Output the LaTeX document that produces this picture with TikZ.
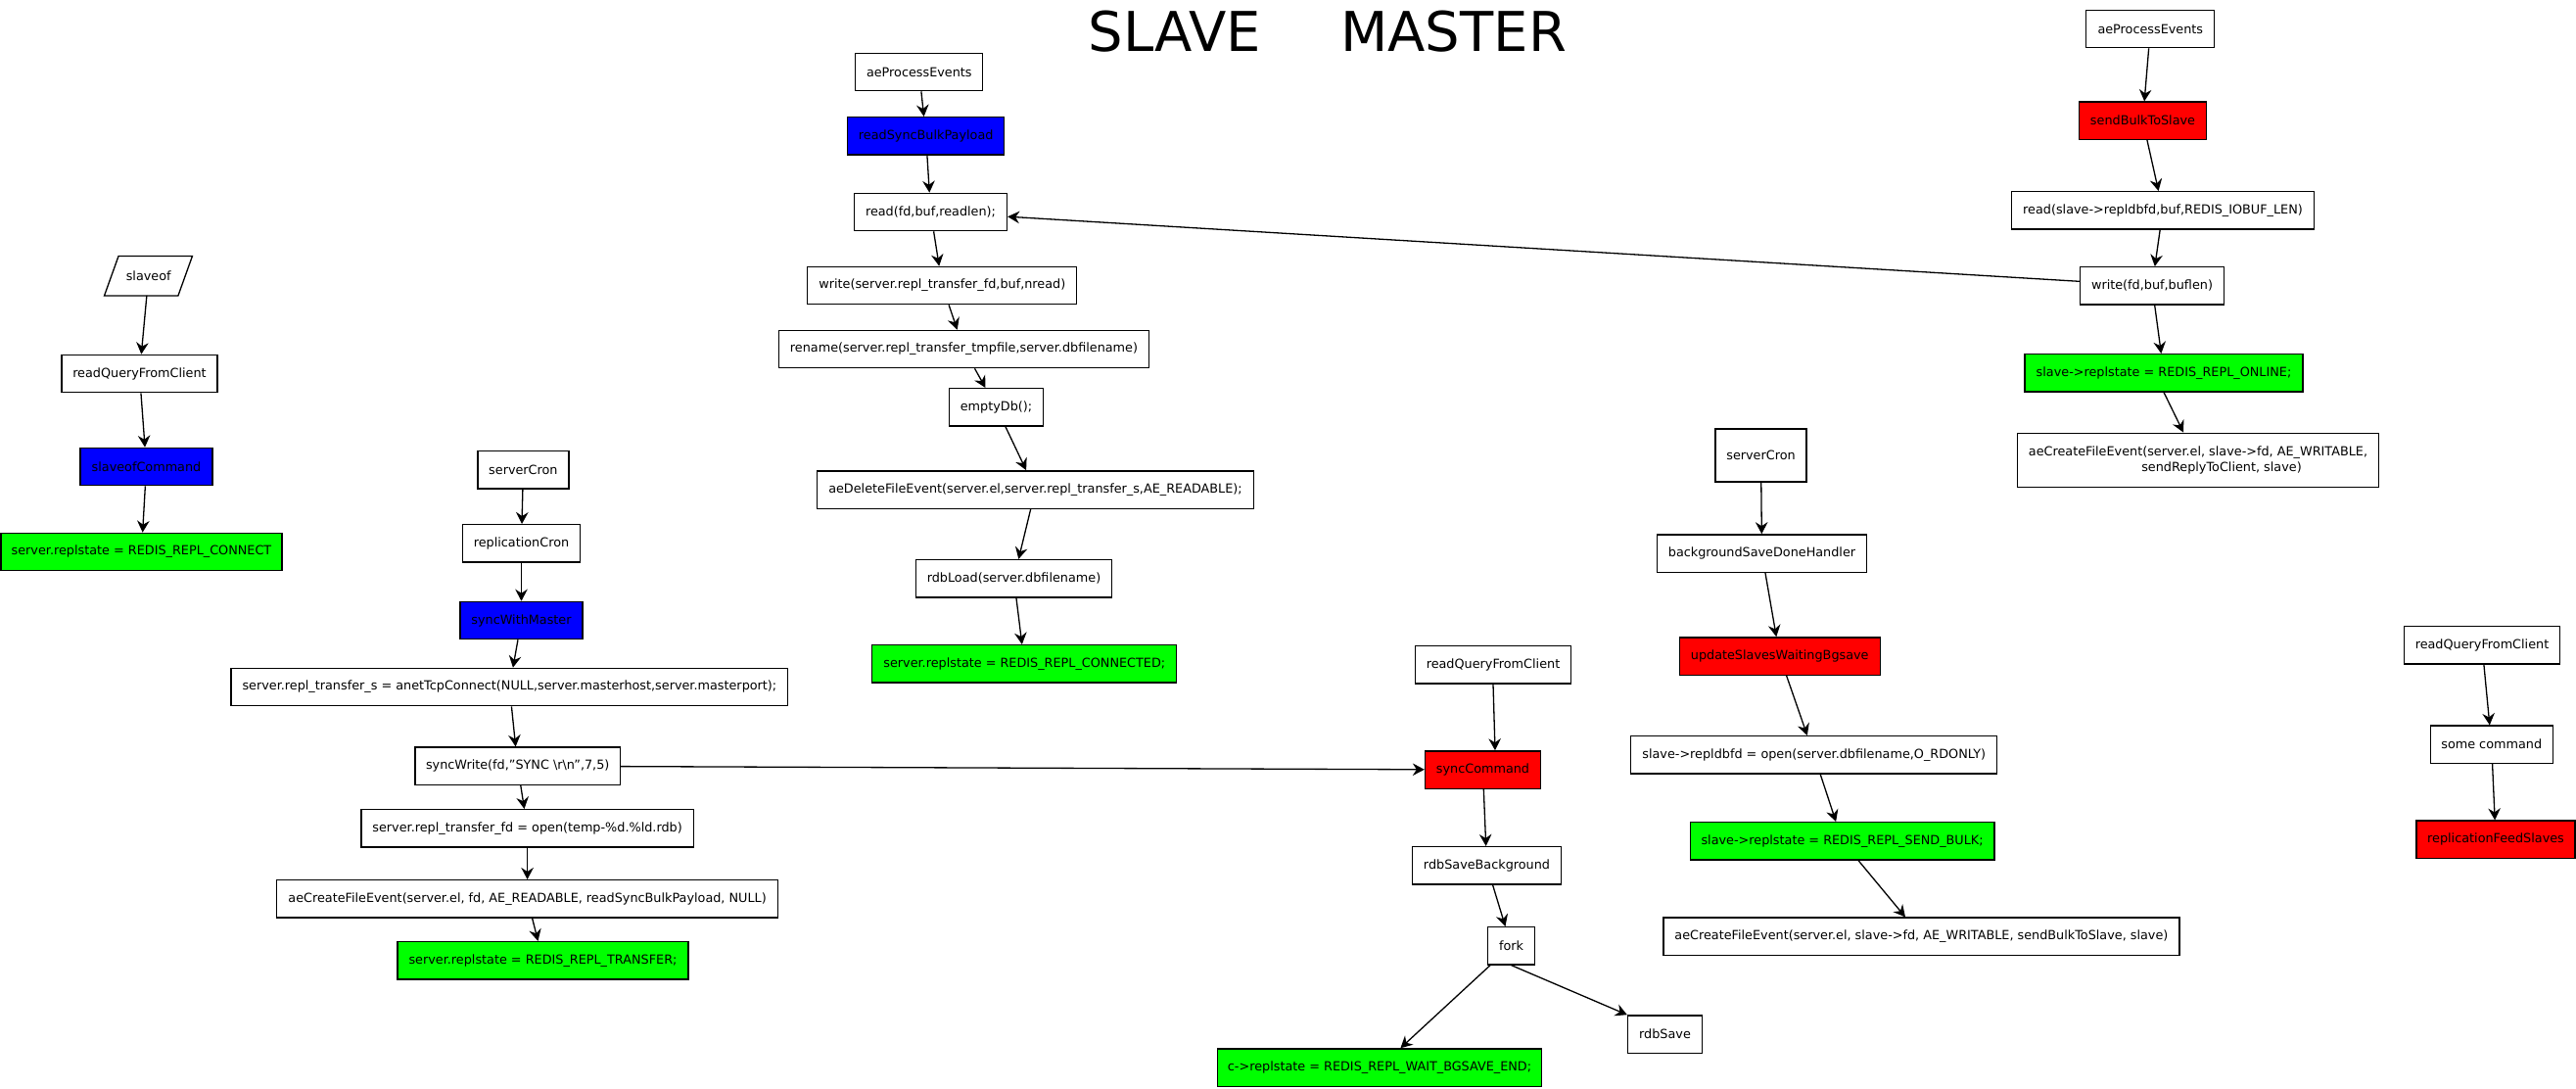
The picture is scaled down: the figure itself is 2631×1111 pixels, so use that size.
\documentclass[tikz,border=0pt]{standalone}
\usepackage{fontspec}
\setmainfont{DejaVu Sans}
\usetikzlibrary{arrows.meta}
\begin{document}
\begin{tikzpicture}[x=1pt,y=-1pt,
  box/.style={draw, line width=1.3pt, fill=white, minimum height=38.3pt, inner xsep=3pt, inner ysep=2pt,
    font=\fontsize{12.8}{16}\selectfont},
  bluebox/.style={box, fill={rgb,255:red,0;green,0;blue,255}},
  greenbox/.style={box, fill={rgb,255:red,0;green,255;blue,0}},
  redbox/.style={box, fill={rgb,255:red,255;green,0;blue,0}},
  arr/.style={line width=1.3pt, -{Stealth[length=12pt,width=12.5pt,inset=4pt]}},
  ttl/.style={font=\fontsize{56}{60}\selectfont, anchor=base, inner sep=0pt}]
\useasboundingbox[fill=white] (0,0) rectangle (2631,1111);

% title
\node[ttl] (tslave) at (1200,52.7) {SLAVE};
\node[ttl] (tmaster) at (1484.6,52.7) {MASTER};

% ---------- SLAVE: slaveof ----------
\node[minimum width=75pt, minimum height=40pt, inner sep=0pt, font=\fontsize{12.8}{16}\selectfont] (slaveof) at (151.75,281.7) {slaveof};
\draw[line width=1.3pt] ([xshift=-7.5pt]slaveof.south west) -- ([xshift=-7.5pt]slaveof.south east)
  -- ([xshift=7pt]slaveof.north east) -- ([xshift=7pt]slaveof.north west) -- cycle;
\node[box, minimum width=159pt] (rqc1) at (142.5,381.5) {readQueryFromClient};
\node[bluebox, minimum width=135pt] (slcmd) at (149.5,476.5) {slaveofCommand};
\node[greenbox, minimum width=287pt] (connect) at (144.5,563.5) {server.replstate = REDIS\_REPL\_CONNECT};

% ---------- SLAVE: serverCron ----------
\node[box, minimum width=93pt] (scron1) at (534.4,479.8) {serverCron};
\node[box, minimum width=119.7pt] (rcron) at (532.5,554.8) {replicationCron};
\node[bluebox, minimum width=125pt] (swm) at (532.5,633.5) {syncWithMaster};
\node[box, minimum width=568.6pt] (anet) at (520.4,701.5) {server.repl\_transfer\_s = anetTcpConnect(NULL,server.masterhost,server.masterport);};
\node[box, minimum width=209.3pt] (swrite) at (528.7,782.2) {syncWrite(fd,"SYNC \textbackslash r\textbackslash n",7,5)};
\node[box, minimum width=339.4pt] (replfd) at (538.6,845.8) {server.repl\_transfer\_fd = open(temp-\%d.\%ld.rdb)};
\node[box, minimum width=511.6pt] (aec1) at (538.6,917.8) {aeCreateFileEvent(server.el, fd, AE\_READABLE, readSyncBulkPayload, NULL)};
\node[greenbox, minimum width=297pt] (transfer) at (554.5,980.7) {server.replstate = REDIS\_REPL\_TRANSFER;};

% ---------- SLAVE: aeProcessEvents ----------
\node[box, minimum width=130pt] (aepe1) at (938.8,73.5) {aeProcessEvents};
\node[bluebox, minimum width=160pt] (rsbp) at (945.7,138.8) {readSyncBulkPayload};
\node[box, minimum width=156pt] (readfd) at (950.5,216.5) {read(fd,buf,readlen);};
\node[box, minimum width=275pt] (writefd) at (962.3,291.5) {write(server.repl\_transfer\_fd,buf,nread)};
\node[box, minimum width=378pt] (rename) at (984.5,356.5) {rename(server.repl\_transfer\_tmpfile,server.dbfilename)};
\node[box, minimum width=96pt] (emptydb) at (1017.5,415.8) {emptyDb();};
\node[box, minimum width=445.5pt] (aedel) at (1057.5,500) {aeDeleteFileEvent(server.el,server.repl\_transfer\_s,AE\_READABLE);};
\node[box, minimum width=200pt] (rdbload) at (1035.5,590.7) {rdbLoad(server.dbfilename)};
\node[greenbox, minimum width=311pt] (connected) at (1046.3,677.8) {server.replstate = REDIS\_REPL\_CONNECTED;};

% ---------- MASTER: readQueryFromClient / sync ----------
\node[box, minimum width=159pt] (rqc2) at (1525,678.8) {readQueryFromClient};
\node[redbox, minimum width=118pt] (synccmd) at (1514.5,786) {syncCommand};
\node[box, minimum width=152pt] (rdbsbg) at (1518.5,883.7) {rdbSaveBackground};
\node[box, minimum width=48pt] (fork) at (1543.5,965.8) {fork};
\node[box, minimum width=76pt] (rdbsave) at (1700.5,1056) {rdbSave};
\node[greenbox, minimum width=331pt] (waitbg) at (1409,1090) {c->replstate = REDIS\_REPL\_WAIT\_BGSAVE\_END;};

% ---------- MASTER: serverCron ----------
\node[box, minimum width=93pt, minimum height=54pt] (scron2) at (1798.5,465) {serverCron};
\node[box, minimum width=214pt] (bgsdh) at (1799.5,565) {backgroundSaveDoneHandler};
\node[redbox, minimum width=205pt] (upd) at (1817.7,670) {updateSlavesWaitingBgsave};
\node[box, minimum width=374pt] (repldbfd) at (1852.7,770.8) {slave->repldbfd = open(server.dbfilename,O\_RDONLY)};
\node[greenbox, minimum width=310.7pt] (sendbulk) at (1881.6,858.8) {slave->replstate = REDIS\_REPL\_SEND\_BULK;};
\node[box, minimum width=527pt] (aec2) at (1962.4,956.2) {aeCreateFileEvent(server.el, slave->fd, AE\_WRITABLE, sendBulkToSlave, slave)};

% ---------- MASTER: aeProcessEvents ----------
\node[box, minimum width=131pt] (aepe2) at (2196.3,29.5) {aeProcessEvents};
\node[redbox, minimum width=130pt] (sbts) at (2188.5,123.2) {sendBulkToSlave};
\node[box, minimum width=309pt] (readsl) at (2209,214.8) {read(slave->repldbfd,buf,REDIS\_IOBUF\_LEN)};
\node[box, minimum width=147pt] (writebuf) at (2198,291.8) {write(fd,buf,buflen)};
\node[greenbox, minimum width=284pt] (online) at (2210,380.8) {slave->replstate = REDIS\_REPL\_ONLINE;};
\node[box, minimum width=369pt, minimum height=55pt, align=center] (aec3) at (2245,469.7)
  {aeCreateFileEvent(server.el, slave->fd, AE\_WRITABLE,\\\hspace*{48pt}sendReplyToClient, slave)};

% ---------- MASTER: feed ----------
\node[box, minimum width=159pt] (rqc3) at (2535,658.8) {readQueryFromClient};
\node[box, minimum width=125pt] (somecmd) at (2544.7,760.2) {some command};
\node[redbox, minimum width=162pt] (feed) at (2549,857.2) {replicationFeedSlaves};

% ---------- connectors ----------
\draw[arr] (slaveof) -- (rqc1);
\draw[arr] (rqc1) -- (slcmd);
\draw[arr] (slcmd) -- (connect);

\draw[arr] (scron1) -- (rcron);
\draw[arr] (rcron) -- (swm);
\draw[arr] (swm) -- (anet);
\draw[arr] (anet) -- (swrite);
\draw[arr] (swrite) -- (replfd);
\draw[arr] (replfd) -- (aec1);
\draw[arr] (aec1) -- (transfer);
\draw[arr] (swrite) -- (synccmd);

\draw[arr] (aepe1) -- (rsbp);
\draw[arr] (rsbp) -- (readfd);
\draw[arr] (readfd) -- (writefd);
\draw[arr] (writefd) -- (rename);
\draw[arr] (rename) -- (emptydb);
\draw[arr] (emptydb) -- (aedel);
\draw[arr] (aedel) -- (rdbload);
\draw[arr] (rdbload) -- (connected);

\draw[arr] (rqc2.south) -- ([xshift=2pt]rqc2.south |- synccmd.north);
\draw[arr] (synccmd) -- (rdbsbg);
\draw[arr] (rdbsbg) -- (fork);
\draw[arr] (fork) -- (waitbg);
\draw[arr] (fork.south) -- (rdbsave.north west);

\draw[arr] (scron2) -- (bgsdh);
\draw[arr] (bgsdh) -- (upd);
\draw[arr] (upd) -- (repldbfd);
\draw[arr] (repldbfd) -- (sendbulk);
\draw[arr] (sendbulk) -- (aec2);

\draw[arr] (aepe2) -- (sbts);
\draw[arr] (sbts) -- (readsl);
\draw[arr] (readsl) -- (writebuf);
\draw[arr] (writebuf) -- (online);
\draw[arr] (online.south) -- ([xshift=-15pt]aec3.north);
\draw[arr] (writebuf) -- (readfd);

\draw[arr] (rqc3) -- (somecmd);
\draw[arr] (somecmd) -- (feed);
\end{tikzpicture}
\end{document}
